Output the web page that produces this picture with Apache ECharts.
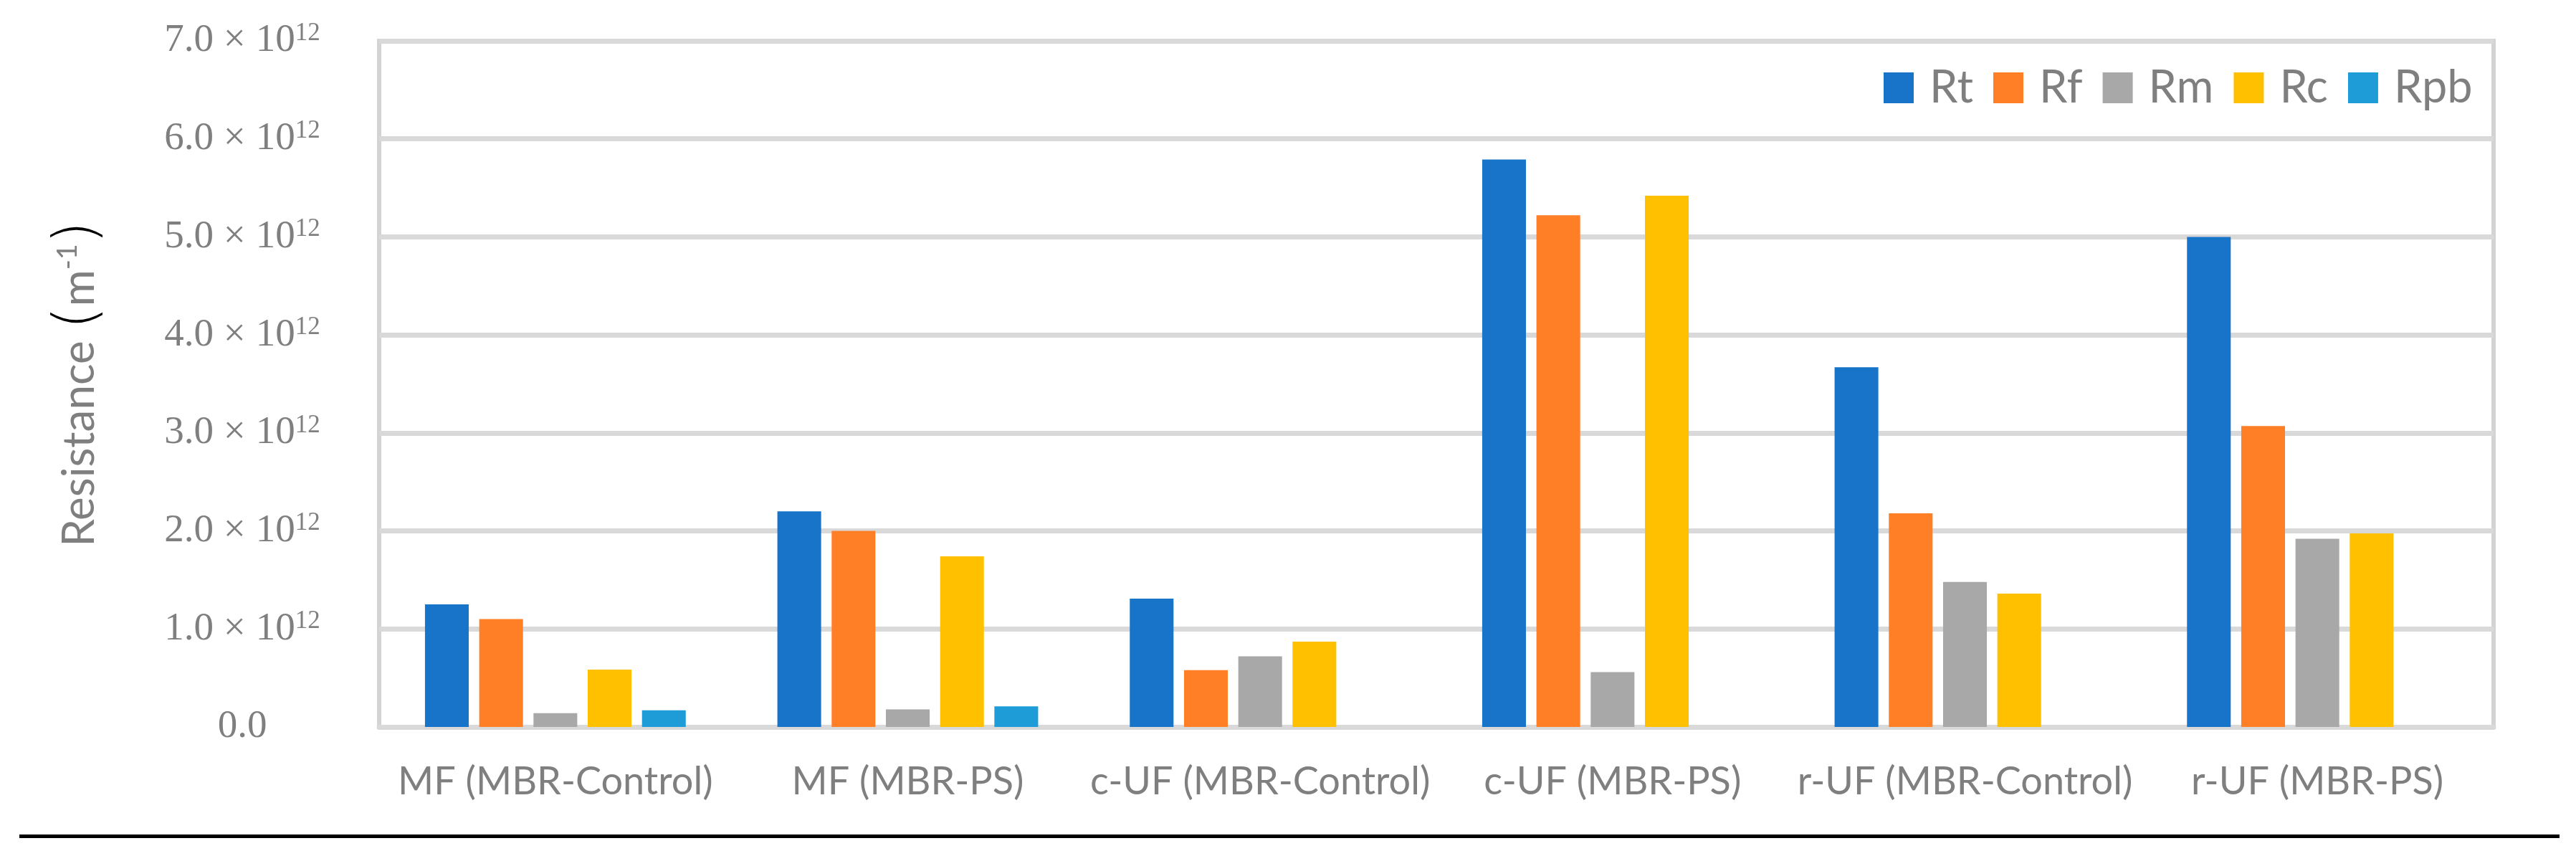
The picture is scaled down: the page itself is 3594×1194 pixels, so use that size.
<!DOCTYPE html>
<html><head><meta charset="utf-8">
<script src="https://cdn.jsdelivr.net/npm/echarts@6/dist/echarts.min.js"></script>
<style>html,body{margin:0;padding:0;background:#fff}#c{width:3594px;height:1194px}</style>
</head><body><div id="c"></div>
<script>
// Data (m^-1)
const categories = ['MF (MBR-Control)', 'MF (MBR-PS)', 'c-UF (MBR-Control)', 'c-UF (MBR-PS)', 'r-UF (MBR-Control)', 'r-UF (MBR-PS)'];
const seriesNames = ['Rt', 'Rf', 'Rm', 'Rc', 'Rpb'];
const Rt  = [1.25e12, 2.20e12, 1.31e12, 5.79e12, 3.67e12, 5.00e12];
const Rf  = [1.10e12, 2.00e12, 0.58e12, 5.22e12, 2.18e12, 3.07e12];
const Rm  = [0.14e12, 0.18e12, 0.72e12, 0.56e12, 1.48e12, 1.92e12];
const Rc  = [0.585e12, 1.74e12, 0.87e12, 5.42e12, 1.36e12, 1.975e12];
const Rpb = [0.17e12, 0.21e12, null, null, null, null];
const yTickValues = [0, 1e12, 2e12, 3e12, 4e12, 5e12, 6e12, 7e12];

const seriesData = [Rt, Rf, Rm, Rc, Rpb];
const colors = ['#1874C9', '#FF7F27', '#A8A8A8', '#FFC000', '#1E9CD8'];
const gray = '#7f7f7f';

const chart = echarts.init(document.getElementById('c'), null, {renderer: 'canvas'});
chart.setOption({
  animation: false,
  backgroundColor: '#fff',
  color: colors,
  grid: {left: 529, right: 115, top: 57, bottom: 180, show: true, borderColor: '#d3d3d3', borderWidth: 6, backgroundColor: 'transparent'},
  legend: {
    left: 2623, top: 86, itemWidth: 42, itemHeight: 43, itemGap: 28,
    icon: 'rect',
    data: seriesNames,
    textStyle: {fontFamily: 'Lato', fontSize: 63, color: gray, padding: [0, 0, 0, 17]}
  },
  xAxis: {
    type: 'category', data: categories,
    axisTick: {show: false},
    axisLine: {show: true, lineStyle: {color: '#d9d9d9', width: 7}},
    axisLabel: {fontFamily: 'Lato', fontSize: 54, color: gray, margin: 50, interval: 0}
  },
  yAxis: {
    type: 'value', min: 0, max: yTickValues[yTickValues.length - 1], interval: 1e12,
    axisLine: {show: false}, axisTick: {show: false},
    splitLine: {show: true, lineStyle: {color: '#d9d9d9', width: 7}},
    axisLabel: {
      align: 'center', margin: 191, color: gray,
      formatter: v => v === 0 ? '{n|0.0}' : '{n|' + (v / 1e12).toFixed(1) + ' × 10}{s|12}',
      rich: {
        n: {fontFamily: 'Liberation Serif', fontSize: 55, color: gray, lineHeight: 56},
        s: {fontFamily: 'Liberation Serif', fontSize: 35, color: gray, lineHeight: 34, verticalAlign: 'top'}
      }
    },
    name: '{a|Resistance }{p|(}{a|m}{s|-1}{p|)}',
    nameLocation: 'middle', nameRotate: 90, nameGap: 383,
    nameTextStyle: {
      rich: {
        a: {fontFamily: 'Lato', fontSize: 62, color: gray, lineHeight: 70},
        p: {fontFamily: 'DejaVu Sans', fontSize: 82, color: '#000', lineHeight: 70, fontWeight: 'lighter'},
        s: {fontFamily: 'Lato', fontSize: 38, color: gray, lineHeight: 38, verticalAlign: 'top'}
      }
    }
  },
  series: seriesNames.map((name, i) => ({
    name: name, type: 'bar', data: seriesData[i],
    barGap: '24%', barCategoryGap: '26%',
    itemStyle: {color: colors[i]}
  })),
  graphic: [{
    type: 'line', shape: {x1: 27, y1: 1166.5, x2: 3571, y2: 1166.5},
    style: {stroke: '#000', lineWidth: 5}, silent: true
  }]
});
</script></body></html>
